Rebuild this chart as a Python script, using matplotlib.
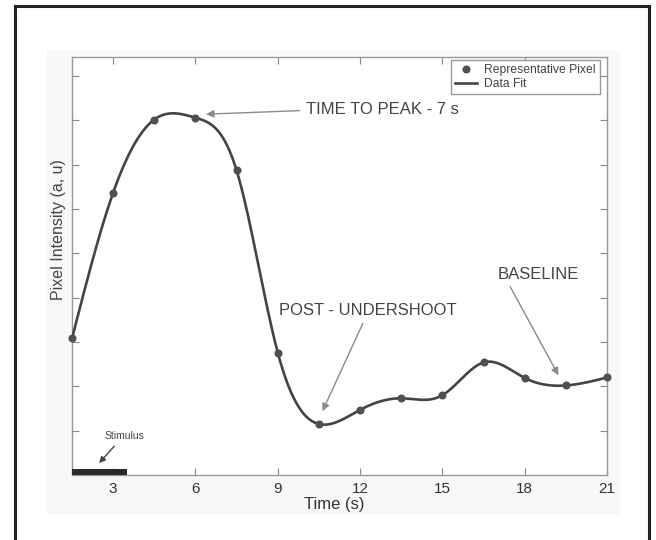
import numpy as np
import matplotlib
matplotlib.use("Agg")
import matplotlib.pyplot as plt
from matplotlib.patches import Rectangle

plt.rcParams['font.family'] = ['Liberation Sans', 'DejaVu Sans']

# ---- data ----
time_s = [1.5, 3.0, 4.5, 6.0, 7.5, 9.0, 10.5, 12.0, 13.5, 15.0, 16.5, 18.0, 19.5, 21.0]
intensity = [3.08, 6.37, 8.02, 8.06, 6.87, 2.76, 1.15, 1.47, 1.73, 1.80, 2.54, 2.19, 2.02, 2.20]
x_ticks = [3, 6, 9, 12, 15, 18, 21]
y_ticks = [1, 2, 3, 4, 5, 6, 7, 8, 9]
stim_start, stim_end, stim_height = 1.5, 3.5, 0.14


def natural_spline(x, y, xs):
    x = np.asarray(x, float); y = np.asarray(y, float)
    n = len(x); h = np.diff(x)
    A = np.zeros((n, n)); b = np.zeros(n)
    A[0, 0] = 1; A[-1, -1] = 1
    for i in range(1, n - 1):
        A[i, i - 1] = h[i - 1]
        A[i, i] = 2 * (h[i - 1] + h[i])
        A[i, i + 1] = h[i]
        b[i] = 3 * ((y[i + 1] - y[i]) / h[i] - (y[i] - y[i - 1]) / h[i - 1])
    c = np.linalg.solve(A, b)
    bb = (y[1:] - y[:-1]) / h - h * (2 * c[:-1] + c[1:]) / 3
    d = (c[1:] - c[:-1]) / (3 * h)
    idx = np.clip(np.searchsorted(x, xs) - 1, 0, n - 2)
    dx = xs - x[idx]
    return y[idx] + bb[idx] * dx + c[idx] * dx ** 2 + d[idx] * dx ** 3


fig = plt.figure(figsize=(6.56, 5.4), dpi=100)
W, H = 656, 540
# faint background panel
fig.patches.append(Rectangle((47 / W, 1 - 515 / H), (620 - 47) / W, (515 - 50) / H,
                             transform=fig.transFigure, facecolor='#f8f8f8',
                             edgecolor='none', zorder=-5))
# outer border
fig.patches.append(Rectangle((15 / W, -0.1), (649 - 15) / W, 1 - 6 / H + 0.1,
                             transform=fig.transFigure, facecolor='none',
                             edgecolor='#222222', lw=2.2, zorder=10))

ax = fig.add_axes([72 / W, 1 - 475 / H, (607 - 72) / W, (475 - 57) / H])
ax.set_zorder(1)
ax.set_facecolor('white')

xs = np.linspace(time_s[0], time_s[-1], 600)
ax.plot(xs, natural_spline(time_s, intensity, xs), color='#444444', lw=1.9,
        label='Data Fit', zorder=3)
ax.plot(time_s, intensity, 'o', color='#505050', ms=4.8, label='Representative Pixel',
        zorder=4, clip_on=False)

ax.add_patch(Rectangle((stim_start, 0), stim_end - stim_start, stim_height,
                       facecolor='#2a2a2a', edgecolor='none', zorder=5, clip_on=False))

ax.set_xlim(1.5, 21)
ax.set_ylim(0, 9.43)
ax.set_xticks(x_ticks)
ax.set_yticks(y_ticks)
ax.set_yticklabels([])
ax.tick_params(direction='in', length=5, width=0.8, color='#888888',
               top=True, right=True, labelsize=11, labelcolor='#333333', pad=5)
for s in ax.spines.values():
    s.set_color('#999999')
    s.set_linewidth(1.0)

ax.set_xlabel('Time (s)', fontsize=12, color='#333333')
ax.set_ylabel('Pixel Intensity (a, u)', fontsize=11.5, color='#444444')
ax.xaxis.set_label_coords(0.49, -0.052)
ax.yaxis.set_label_coords(-0.012, 0.587)

arrow_gray = dict(arrowstyle='-|>', color='#8a8a8a', lw=1.0, mutation_scale=11,
                  shrinkA=0, shrinkB=0)
ax.annotate('', xy=(6.39, 8.14), xytext=(9.79, 8.22), arrowprops=arrow_gray)
ax.text(10.02, 8.24, 'TIME TO PEAK - 7 s', fontsize=12, color='#444444',
        ha='left', va='center')

ax.annotate('', xy=(10.63, 1.44), xytext=(12.1, 3.42), arrowprops=arrow_gray)
ax.text(12.3, 3.72, 'POST - UNDERSHOOT', fontsize=12, color='#444444',
        ha='center', va='center')

ax.annotate('', xy=(19.23, 2.25), xytext=(17.47, 4.25), arrowprops=arrow_gray)
ax.text(18.5, 4.52, 'BASELINE', fontsize=12, color='#444444',
        ha='center', va='center')

ax.annotate('', xy=(2.49, 0.27), xytext=(3.04, 0.65),
            arrowprops=dict(arrowstyle='-|>', color='#444444', lw=1.0,
                            mutation_scale=9, shrinkA=0, shrinkB=0))
ax.text(3.41, 0.88, 'Stimulus', fontsize=7.5, color='#444444', ha='center', va='center')

h, l = ax.get_legend_handles_labels()
leg = ax.legend([h[1], h[0]], [l[1], l[0]], loc='upper right',
                bbox_to_anchor=(0.987, 0.993), borderaxespad=0, fontsize=8.7,
                handlelength=1.8, handletextpad=0.6, borderpad=0.35,
                labelspacing=0.15, fancybox=False, framealpha=1,
                edgecolor='#999999', labelcolor='#444444')
leg.get_frame().set_linewidth(1.0)

fig.savefig('out.png', dpi=100, facecolor='white')
